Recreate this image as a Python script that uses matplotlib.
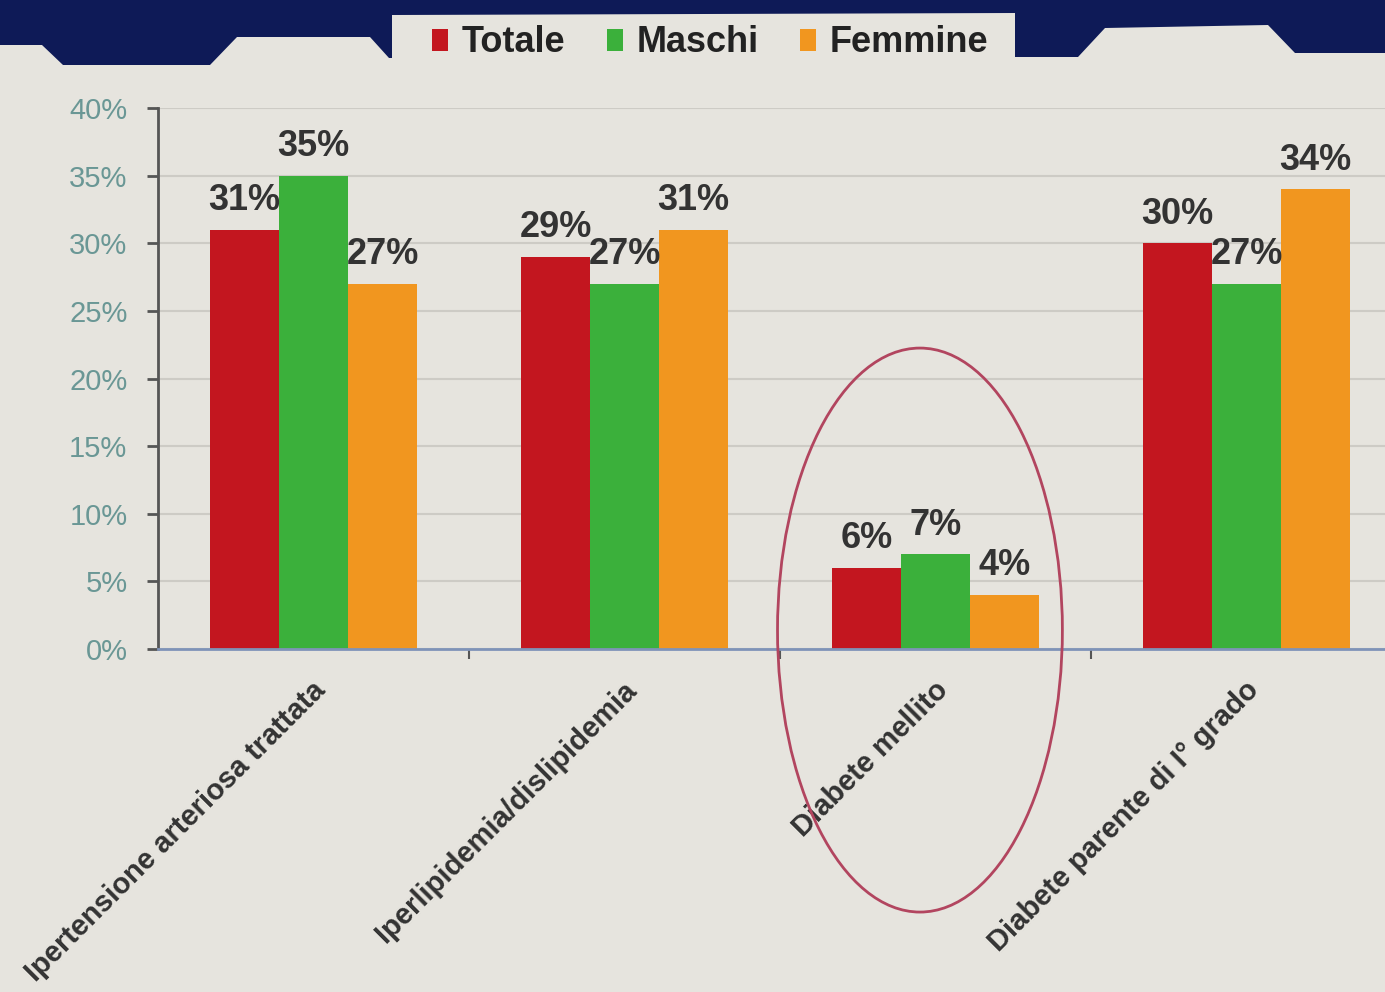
import matplotlib
matplotlib.use("Agg")
import matplotlib.pyplot as plt
import numpy as np
from matplotlib.patches import Polygon, Ellipse
from matplotlib.transforms import ScaledTranslation

plt.rcParams['font.family'] = ['Liberation Sans', 'DejaVu Sans']

# ---- data ----
categories = [
    "Ipertensione arteriosa trattata",
    "Iperlipidemia/dislipidemia",
    "Diabete mellito",
    "Diabete parente di I° grado",
]
series_names = ["Totale", "Maschi", "Femmine"]
totale = [31, 29, 6, 30]
maschi = [35, 27, 7, 27]
femmine = [27, 31, 4, 34]
y_ticks = [0, 5, 10, 15, 20, 25, 30, 35, 40]

colors = ["#c3161f", "#3bb03b", "#f1961f"]
bg = "#e6e4de"
W, H = 1385, 992

fig = plt.figure(figsize=(W / 100, H / 100), dpi=100, facecolor=bg)

# header banner with the legend tab
deco = fig.add_axes([0, 0, 1, 1], zorder=5)
deco.set_xlim(0, W)
deco.set_ylim(H, 0)
deco.axis("off")
deco.patch.set_alpha(0)
banner = [(0, 0), (W, 0), (W, 53), (1295, 53), (1268, 25), (1105, 28),
          (1078, 57), (1015, 57), (1015, 13), (392, 15), (392, 58),
          (389, 58), (370, 37), (237, 37), (210, 65), (63, 65), (42, 45),
          (0, 45)]
deco.add_patch(Polygon(banner, closed=True, facecolor="#0e1a57", edgecolor="none"))

# main chart area
ax = fig.add_axes([158 / W, 343 / H, 1244 / W, 541 / H], zorder=2)
ax.patch.set_alpha(0)

x = np.arange(len(categories))
bw = 0.222
bars = []
for i, (vals, name, c) in enumerate(zip([totale, maschi, femmine], series_names, colors)):
    b = ax.bar(x + (i - 1) * bw, vals, width=bw, color=c, label=name, zorder=3)
    bars.append(b)
    for xi, v in zip(x + (i - 1) * bw, vals):
        ax.annotate(f"{v}%", (xi, v), xytext=(0, 14), textcoords="offset points",
                    ha="center", va="baseline", fontsize=26, fontweight="bold",
                    color="#333333", zorder=4)

ax.set_xlim(-0.5, 3.5)
ax.set_ylim(0, 40)
ax.set_yticks(y_ticks)
ax.set_yticklabels([f"{t}%" for t in y_ticks], fontsize=21, color="#6a9795")
ax.tick_params(axis="y", direction="out", length=8, width=2, color="#555555", pad=14)
ax.yaxis.grid(True, color="#cdcbc5", linewidth=1.5, zorder=0)
ax.set_axisbelow(True)

ax.set_xticks(x)
ax.set_xticklabels(categories, rotation=45, ha="right", va="top",
                   rotation_mode="anchor", fontsize=21, fontweight="bold",
                   color="#333333")
ax.tick_params(axis="x", length=0, pad=0)
off = ScaledTranslation(-2 / 100, -27 / 100, fig.dpi_scale_trans)
for lab in ax.get_xticklabels():
    lab.set_transform(lab.get_transform() + off)
ax.set_xticks([0.5, 1.5, 2.5], minor=True)
ax.tick_params(axis="x", which="minor", direction="out", length=7, width=1.5, color="#555555")

for s in ["top", "right"]:
    ax.spines[s].set_visible(False)
ax.spines["left"].set_color("#555555")
ax.spines["left"].set_linewidth(2)
ax.spines["bottom"].set_color("#7f93b8")
ax.spines["bottom"].set_linewidth(2)
ax.spines["bottom"].set_zorder(5)

# highlight around the diabetes group
ax.add_patch(Ellipse((1.95, 1.4), 0.916, 41.7, fill=False, edgecolor="#b2455f",
                     linewidth=2, clip_on=False, zorder=6))

# legend in the header tab
leg = fig.legend(handles=bars, labels=series_names, loc="center",
                 bbox_to_anchor=(710 / W, 1 - 43 / H), ncol=3, frameon=False,
                 handlelength=0.45, handleheight=0.55, handletextpad=0.37,
                 columnspacing=1.15, borderpad=0,
                 prop={"size": 26, "weight": "bold"})
for t in leg.get_texts():
    t.set_color("#222222")
leg.set_zorder(10)

fig.savefig("out.png", dpi=100, facecolor=bg)
